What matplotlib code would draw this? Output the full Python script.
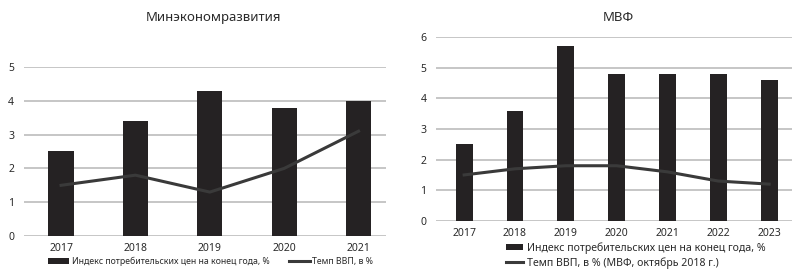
import matplotlib.pyplot as plt
import numpy as np

plt.rcParams['font.family'] = ['Noto Sans', 'DejaVu Sans']

# Минэкономразвития
years_me = ['2017', '2018', '2019', '2020', '2021']
cpi_me = [2.5, 3.4, 4.3, 3.8, 4.0]
gdp_me = [1.5, 1.8, 1.3, 2.0, 3.1]

# МВФ
years_imf = ['2017', '2018', '2019', '2020', '2021', '2022', '2023']
cpi_imf = [2.5, 3.6, 5.7, 4.8, 4.8, 4.8, 4.6]
gdp_imf = [1.5, 1.7, 1.8, 1.8, 1.6, 1.3, 1.2]

bar_color = '#252223'
line_color = '#3a3a3a'
grid_color = '#c6c6c6'
text_color = '#2a2a2a'

fig = plt.figure(figsize=(7.96, 2.71), dpi=100)


def style(ax, ymax):
    ax.set_ylim(0, ymax)
    ax.set_yticks(range(0, ymax + 1))
    ax.grid(axis='y', color=grid_color, lw=1.4)
    ax.set_axisbelow(True)
    for s in ax.spines.values():
        s.set_visible(False)
    ax.tick_params(length=0, labelsize=7.5, colors=text_color)
    ax.tick_params(axis='x', pad=5)
    ax.tick_params(axis='y', pad=7)


# left chart
a = fig.add_axes([0.030, 0.129, 0.455, 0.624])
x = np.arange(len(years_me))
b1 = a.bar(x, cpi_me, width=0.34, color=bar_color, zorder=2)
l1, = a.plot(x, gdp_me, color=line_color, lw=2.2, zorder=3)
a.set_xticks(x)
a.set_xticklabels(years_me)
a.set_xlim(-0.5, 4.37)
style(a, 5)
fig.text(0.268, 0.934, 'Минэкономразвития', ha='center', va='center',
         fontsize=9.5, color=text_color)
a.legend([b1, l1], ['Индекс потребительских цен на конец года, %', 'Темп ВВП, в %'],
         loc='upper left', bbox_to_anchor=(0.045, -0.075), ncol=2, frameon=False,
         fontsize=6.3, handlelength=2.4, handleheight=0.6, columnspacing=2.2,
         handletextpad=0.3, labelcolor=text_color)

# right chart
b = fig.add_axes([0.548, 0.185, 0.447, 0.678])
x2 = np.arange(len(years_imf))
b2 = b.bar(x2, cpi_imf, width=0.33, color=bar_color, zorder=2)
l2, = b.plot(x2, gdp_imf, color=line_color, lw=2.2, zorder=3)
b.set_xticks(x2)
b.set_xticklabels(years_imf)
b.set_xlim(-0.55, 6.45)
style(b, 6)
fig.text(0.777, 0.934, 'МВФ', ha='center', va='center', fontsize=9.5, color=text_color)
b.legend([b2, l2], ['Индекс потребительских цен на конец года, %',
                    'Темп ВВП, в % (МВФ, октябрь 2018 г.)'],
         loc='upper left', bbox_to_anchor=(0.175, -0.075), ncol=1, frameon=False,
         fontsize=7.6, handlelength=1.6, handleheight=0.6, labelspacing=0.3,
         handletextpad=0.4, borderpad=0.2, labelcolor=text_color)

fig.savefig('out.png', dpi=100)
